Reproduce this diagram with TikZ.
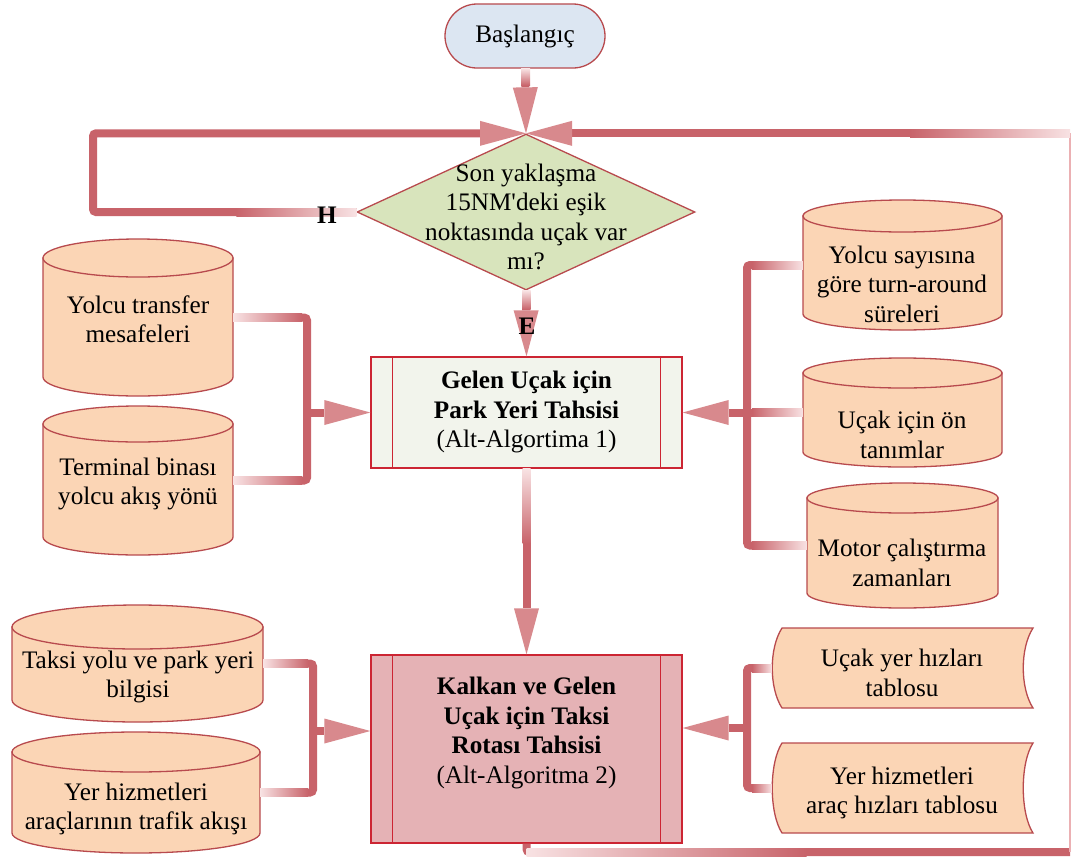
\documentclass[tikz,border=0pt]{standalone}
\usepackage{fontspec}
\setmainfont{Liberation Serif}
\usetikzlibrary{arrows.meta,calc,shapes.geometric}
\definecolor{bord}{HTML}{B84A4E}
\definecolor{startfill}{HTML}{DCE6F2}
\definecolor{diafill}{HTML}{D8E4BC}
\definecolor{cylfill}{HTML}{FBD5B5}
\definecolor{altbord}{HTML}{CC2533}
\definecolor{altAfill}{HTML}{F2F4EC}
\definecolor{altBfill}{HTML}{E5B2B5}
\definecolor{connc}{HTML}{C8636A}
\definecolor{connpale}{HTML}{F8E2E3}
\definecolor{tipc}{HTML}{D8898D}
\definecolor{thinc}{HTML}{EBB0B3}
\tikzset{
 txt/.style={font=\fontsize{25.2}{29.5}\selectfont, align=center, inner sep=0pt},
 btxt/.style={font=\fontsize{25.2}{29.5}\selectfont\bfseries, align=center, inner sep=0pt},
 shapeline/.style={draw=bord, line width=1.3pt},
 altbox/.style={draw=altbord, line width=1.3pt, inner sep=0pt},
 cylst/.style={draw=bord, line width=1.3pt, fill=cylfill},
 conn/.style={draw=connc, line width=8pt, rounded corners=3pt},
 thinconn/.style={draw=thinc, line width=2.5pt},
 bigtip/.style={-{Triangle[length=46pt,width=25pt,line width=0pt,color=tipc,fill=tipc]}},
}
% cylinder: name, L, T, R, B, ry
\newcommand\mycyl[6]{%
  \node[inner sep=0pt, minimum width={#4-#2}, minimum height={#5-#3}] (#1) at ({(#2+#4)/2},{(#3+#5)/2}) {};
  \filldraw[cylst] (#2,#3+#6) -- (#2,#5-#6) arc[start angle=180, end angle=0, x radius={(#4-#2)/2}, y radius=#6] -- (#4,#3+#6) -- cycle;
  \filldraw[cylst] ({(#2+#4)/2},#3+#6) ellipse[x radius={(#4-#2)/2}, y radius=#6];
}
% stored data: name, L, T, R, B
\newcommand\mydoc[5]{%
  \node[inner sep=0pt, minimum width={#4-#2}, minimum height={#5-#3}] (#1) at ({(#2+#4)/2},{(#3+#5)/2}) {};
  \filldraw[cylst] (#2+10,#3) -- (#4,#3) .. controls (#4-13,#3+20) and (#4-13,#5-20) .. (#4,#5) -- (#2+10,#5) .. controls (#2-3,#5-20) and (#2-3,#3+20) .. (#2+10,#3) -- cycle;
}
\newcommand\hfade[5]{\shade[left color=#3,right color=#4] ($#1+(0,-4)$) rectangle ($#2+(#5,4)$);}
\newcommand\vfade[5]{\shade[top color=#3,bottom color=#4] ($#1+(-4,0)$) rectangle ($#2+(4,#5)$);}
\begin{document}
\begin{tikzpicture}[x=1pt,y=-1pt]
\useasboundingbox (0,0) rectangle (1077,860);
\fill[white] (0,0) rectangle (1077,860);

% ---- main flow nodes
\node[shapeline, fill=startfill, rounded corners=32pt, minimum width=160pt, minimum height=64pt, txt] (start) at (525,36) {Başlangıç};
\node[diamond, shapeline, fill=diafill, minimum width=338pt, minimum height=156pt, inner sep=0pt] (dia) at (526,212) {};
\node[txt] (diat) at (526,217) {Son yaklaşma\\15NM\textquotesingle deki eşik\\noktasında uçak var\\mı?};

\node[altbox, fill=altAfill, minimum width=311pt, minimum height=111pt] (alt1) at (526.5,412.5) {};
\draw[altbox] ($(alt1.north west)+(22,0)$) -- ($(alt1.south west)+(22,0)$);
\draw[altbox] ($(alt1.north east)+(-22,0)$) -- ($(alt1.south east)+(-22,0)$);
\node[txt] (alt1t) at (526.5,412) {\textbf{Gelen Uçak için}\\\textbf{Park Yeri Tahsisi}\\(Alt-Algortima 1)};

\node[altbox, fill=altBfill, minimum width=311pt, minimum height=188pt] (alt2) at (526.5,749) {};
\draw[altbox] ($(alt2.north west)+(22,0)$) -- ($(alt2.south west)+(22,0)$);
\draw[altbox] ($(alt2.north east)+(-22,0)$) -- ($(alt2.south east)+(-22,0)$);
\node[txt] (alt2t) at (526.5,733) {\textbf{Kalkan ve Gelen}\\\textbf{Uçak için Taksi}\\\textbf{Rotası Tahsisi}\\(Alt-Algoritma 2)};

% ---- data stores
\mycyl{c1}{43}{239}{233}{396}{19}
\node[txt] (c1t) at (138,319) {Yolcu transfer\\mesafeleri};
\mycyl{c2}{43}{406}{233}{555}{18}
\node[txt] (c2t) at (138,484) {Terminal binası\\yolcu akış yönü};
\mycyl{c3}{803}{200}{1002}{330}{16}
\node[txt] (c3t) at (902,284) {Yolcu sayısına\\göre turn-around\\süreleri};
\mycyl{c4}{803}{358}{1002}{467}{15}
\node[txt] (c4t) at (902,435) {Uçak için ön\\tanımlar};
\mycyl{c5}{807}{483}{998}{608}{15}
\node[txt] (c5t) at (902,563) {Motor çalıştırma\\zamanları};
\mycyl{c6}{12}{605}{263}{722}{22}
\node[txt] (c6t) at (138,677) {Taksi yolu ve park yeri\\bilgisi};
\mycyl{c7}{12}{732}{260}{853}{20}
\node[txt] (c7t) at (136,809) {Yer hizmetleri\\araçlarının trafik akışı};
\mydoc{d1}{772}{628}{1033}{708}
\node[txt] (d1t) at (902,673) {Uçak yer hızları\\tablosu};
\mydoc{d2}{772}{743}{1033}{833}
\node[txt] (d2t) at (902,793) {Yer hizmetleri\\araç hızları tablosu};

% ---- junction coordinates
\coordinate (jl1) at (307,412.5);
\coordinate (jr1) at (747,412.5);
\coordinate (jl2) at (313,731);
\coordinate (jr2) at (747,728);
\coordinate (l1) at (93,212);
\coordinate (l2) at (l1 |- dia.north);
\coordinate (r1) at (1070,852);
\coordinate (r2) at (r1 |- dia.north);

% ---- connectors
\draw[conn, bigtip] (start.south) -- (dia.north);
\draw[conn, bigtip] (dia.west) -- (l1) -- (l2) -- (dia.north);
\draw[conn] (alt2.south) |- (r1);
\draw[thinconn] (r1) -- (r2);
\draw[conn, bigtip] (r2) -- (dia.north);
\draw[conn, bigtip] (dia.south) -- (alt1.north);
\draw[conn, bigtip] (alt1.south) -- (alt2.north);

\draw[conn] (c1.east) -| (jl1) |- (c2.east);
\draw[conn, bigtip] (jl1) -- (alt1.west);
\draw[conn] (c3.west) -| (jr1) |- (c5.west);
\draw[conn] (c4.west) -- (c4.west -| jr1);
\draw[conn, bigtip] (jr1) -- (alt1.east);
\draw[conn] (c6.east) -| (jl2) |- (c7.east);
\draw[conn, bigtip] (jl2) -- (alt2.west |- jl2);
\draw[conn] (d1.west) -| (jr2) |- (d2.west);
\draw[conn, bigtip] (jr2) -- (alt2.east |- jr2);

% ---- gradient fades on connector ends
\vfade{(start.south)}{(dia.north)}{connpale}{connc}{-48}
\vfade{(dia.south)}{(alt1.north)}{connpale}{connc}{-47}
\vfade{(alt1.south)}{(alt1.south)}{connpale}{connc}{75}
\hfade{(c1.east)}{(jl1|-c1.east)}{connpale}{connc}{-5}
\hfade{(c2.east)}{(jl1|-c2.east)}{connpale}{connc}{-5}
\hfade{(c3.west)}{(jr1|-c3.west)}{connc}{connpale}{5}
\hfade{(c4.west)}{(jr1|-c4.west)}{connc}{connpale}{5}
\hfade{(c5.west)}{(jr1|-c5.west)}{connc}{connpale}{5}
\hfade{(c6.east)}{(jl2|-c6.east)}{connpale}{connc}{-5}
\hfade{(c7.east)}{(jl2|-c7.east)}{connpale}{connc}{-5}
\hfade{(d1.west)}{(jr2|-d1.west)}{connc}{connpale}{5}
\hfade{(d2.west)}{(jr2|-d2.west)}{connc}{connpale}{5}
\hfade{(dia.west)}{(dia.west)}{connc}{connpale}{-120}
\hfade{(alt2.south|-r1)}{(alt2.south|-r1)}{connpale}{connc}{280}
\hfade{(r2)}{(r2)}{connc}{connpale}{-160}

% ---- branch labels
\node[btxt] (hlab) at (327,215) {H};
\node[btxt] (elab) at (527,326) {E};
\end{tikzpicture}
\end{document}
